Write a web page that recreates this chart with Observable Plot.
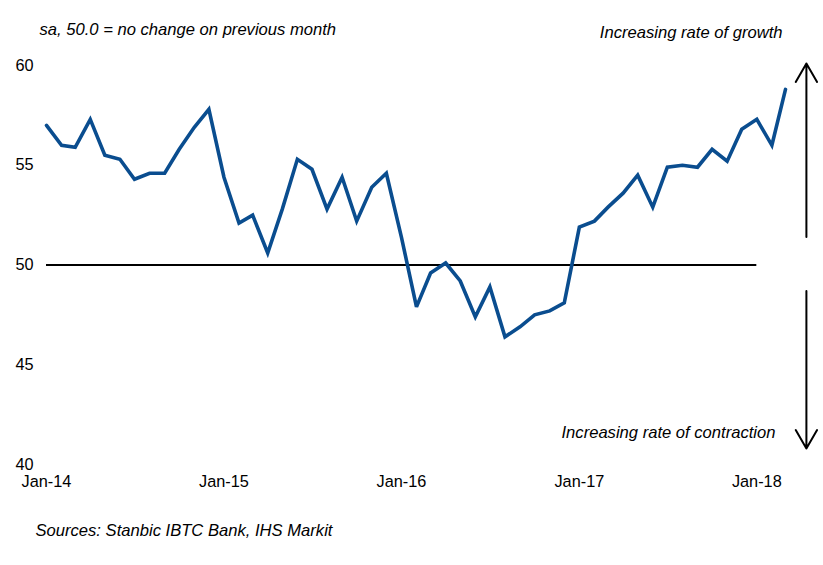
<!DOCTYPE html>
<html>
<head>
<meta charset="utf-8">
<script src="https://cdn.jsdelivr.net/npm/d3@7"></script>
<script src="https://cdn.jsdelivr.net/npm/@observablehq/plot@0.6"></script>
<style>
  html, body { margin: 0; padding: 0; background: #fff; }
  #chart { width: 823px; height: 565px; }
</style>
</head>
<body>
<div id="chart"></div>
<script>
// Monthly PMI readings, Jan-14 .. Mar-18
const startMonth = "2014-01-01";
const endMonth = "2018-03-01";
const pmi = [
  57.0, 56.0, 55.9, 57.3, 55.5, 55.3, 54.3, 54.6, 54.6, 55.8, 56.9, 57.8,
  54.4, 52.1, 52.5, 50.6, 52.8, 55.3, 54.8, 52.8, 54.4, 52.2, 53.9, 54.6,
  51.4, 47.9, 49.6, 50.1, 49.2, 47.4, 48.9, 46.4, 46.9, 47.5, 47.7, 48.1,
  51.9, 52.2, 52.9, 53.6, 54.5, 52.9, 54.9, 55.0, 54.9, 55.8, 55.2, 56.8,
  57.3, 56.0, 58.8
];
const yTicks = [40, 45, 50, 55, 60];
const xTickDates = ["2014-01-01", "2015-01-01", "2016-01-01", "2017-01-01", "2018-01-01"];
const noChangeLevel = 50;
const noChangeSpan = ["2014-01-01", "2018-01-01"];
const arrowX = "2018-04-13";
const growthArrow = [51.4, 60.1];
const contractionArrow = [48.7, 40.8];
const titleText = "sa, 50.0 = no change on previous month";
const growthText = "Increasing rate of growth";
const contractionText = "Increasing rate of contraction";
const sourceText = "Sources: Stanbic IBTC Bank, IHS Markit";

const months = d3.utcMonth.range(new Date(startMonth), d3.utcMonth.offset(new Date(endMonth), 1));
const data = months.map((d, i) => ({date: d, value: pmi[i]}));
const ax = new Date(arrowX);

const chart = Plot.plot({
  width: 823,
  height: 565,
  marginLeft: 46,
  marginRight: 38,
  marginTop: 65,
  marginBottom: 101,
  style: {fontFamily: "'Liberation Sans', Arial, sans-serif", fontSize: "16px", color: "#000", background: "#fff", overflow: "visible"},
  x: {type: "utc", domain: [new Date(startMonth), new Date(endMonth)]},
  y: {domain: [40, 60]},
  marks: [
    Plot.axisY({ticks: yTicks, tickSize: 0, tickPadding: 13, label: null, fontSize: 16.3}),
    Plot.axisX({ticks: xTickDates.map(d => new Date(d)), tickFormat: d3.utcFormat("%b-%y"), tickSize: 0, tickPadding: 11, label: null, fontSize: 16.3}),
    Plot.ruleY([noChangeLevel], {x1: new Date(noChangeSpan[0]), x2: new Date(noChangeSpan[1]), stroke: "#000", strokeWidth: 2}),
    Plot.line(data, {x: "date", y: "value", stroke: "#0a4d8f", strokeWidth: 3.6, strokeLinejoin: "miter", strokeMiterlimit: 3}),
    Plot.arrow([{x: ax, y1: growthArrow[0], y2: growthArrow[1]}], {x: "x", y1: "y1", y2: "y2", stroke: "#000", strokeWidth: 2, headLength: 16, headAngle: 60}),
    Plot.arrow([{x: ax, y1: contractionArrow[0], y2: contractionArrow[1]}], {x: "x", y1: "y1", y2: "y2", stroke: "#000", strokeWidth: 2, headLength: 16, headAngle: 60}),
    Plot.text([titleText], {frameAnchor: "top-left", text: d => d, textAnchor: "start", lineAnchor: "bottom", dx: -7, dy: -31, fontStyle: "italic", fontSize: 16.6, fill: "#000"}),
    Plot.text([growthText], {frameAnchor: "top-right", text: d => d, textAnchor: "end", lineAnchor: "bottom", dx: -3, dy: -28, fontStyle: "italic", fontSize: 16.6, fill: "#000"}),
    Plot.text([contractionText], {frameAnchor: "bottom-right", text: d => d, textAnchor: "end", lineAnchor: "bottom", dx: -10, dy: -26.5, fontStyle: "italic", fontSize: 16.6, fill: "#000"}),
    Plot.text([sourceText], {frameAnchor: "bottom-left", text: d => d, textAnchor: "start", lineAnchor: "bottom", dx: -11, dy: 71, fontStyle: "italic", fontSize: 16.6, fill: "#000"})
  ]
});
document.getElementById("chart").appendChild(chart);
</script>
</body>
</html>
